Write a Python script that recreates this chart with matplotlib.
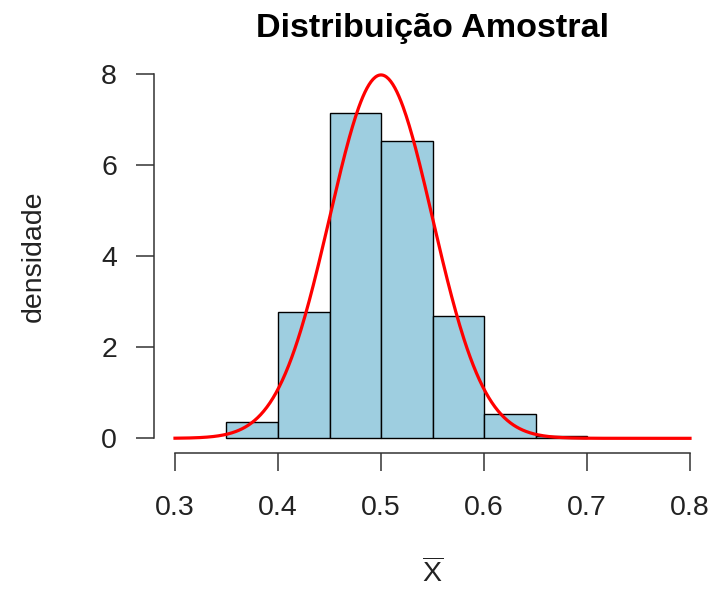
import numpy as np
import matplotlib
matplotlib.use("Agg")
import matplotlib.pyplot as plt

plt.rcParams['font.family'] = ['Liberation Sans', 'DejaVu Sans']
plt.rcParams['mathtext.fontset'] = 'custom'
plt.rcParams['mathtext.rm'] = 'Liberation Sans'
plt.rcParams['mathtext.it'] = 'Liberation Sans'

# Data
bin_edges = [0.35, 0.40, 0.45, 0.50, 0.55, 0.60, 0.65, 0.70]
densities = [0.35, 2.77, 7.14, 6.53, 2.69, 0.53, 0.05]
curve_mean = 0.5
curve_sd = 0.05
x_ticks = [0.3, 0.4, 0.5, 0.6, 0.7, 0.8]
y_ticks = [0, 2, 4, 6, 8]
title = "Distribuição Amostral"
ylabel = "densidade"

W, H = 725, 589
fig = plt.figure(figsize=(W / 100, H / 100), dpi=100)
L, R, T, B = 154.4, 710.6, 59.4, 452.9
ax = fig.add_axes([L / W, 1 - B / H, (R - L) / W, (B - T) / H])

lefts = bin_edges[:-1]
widths = np.diff(bin_edges)
ax.bar(lefts, densities, width=widths, align='edge', color='#9ECEE0',
       edgecolor='black', linewidth=1.0)

xs = np.linspace(0.3, 0.8, 500)
ys = np.exp(-0.5 * ((xs - curve_mean) / curve_sd) ** 2) / (curve_sd * np.sqrt(2 * np.pi))
ax.plot(xs, ys, color='#FF0000', linewidth=2.3)

ax.set_xlim(0.28, 0.82)
ax.set_ylim(-0.32, 8.32)
for s in ['top', 'right']:
    ax.spines[s].set_visible(False)
ax.spines['left'].set_bounds(0, 8)
ax.spines['bottom'].set_bounds(0.3, 0.8)
for s in ['left', 'bottom']:
    ax.spines[s].set_linewidth(1.1)
    ax.spines[s].set_color('#333333')

ax.set_xticks(x_ticks)
ax.set_xticklabels([f"{v:.1f}" for v in x_ticks])
ax.set_yticks(y_ticks)
ax.set_yticklabels([str(v) for v in y_ticks])
ax.tick_params(axis='both', length=13, width=1.1, color='#333333',
               labelsize=20.5, labelcolor='#222222')
ax.tick_params(axis='x', pad=17)
ax.tick_params(axis='y', pad=14)

fig.text(432.5 / W, 1 - 37.4 / H, title, ha='center', va='baseline',
         fontsize=24.6, fontweight='bold', color='black')
fig.text(33.4 / W, 1 - 256 / H, ylabel, ha='center', va='center',
         rotation=90, fontsize=20.5, color='#222222')
fig.text(432.5 / W, 1 - 573.5 / H, r'$\overline{\mathrm{X}}$', ha='center',
         va='center', fontsize=20.5, color='#222222')

fig.savefig("out.png", dpi=100)
